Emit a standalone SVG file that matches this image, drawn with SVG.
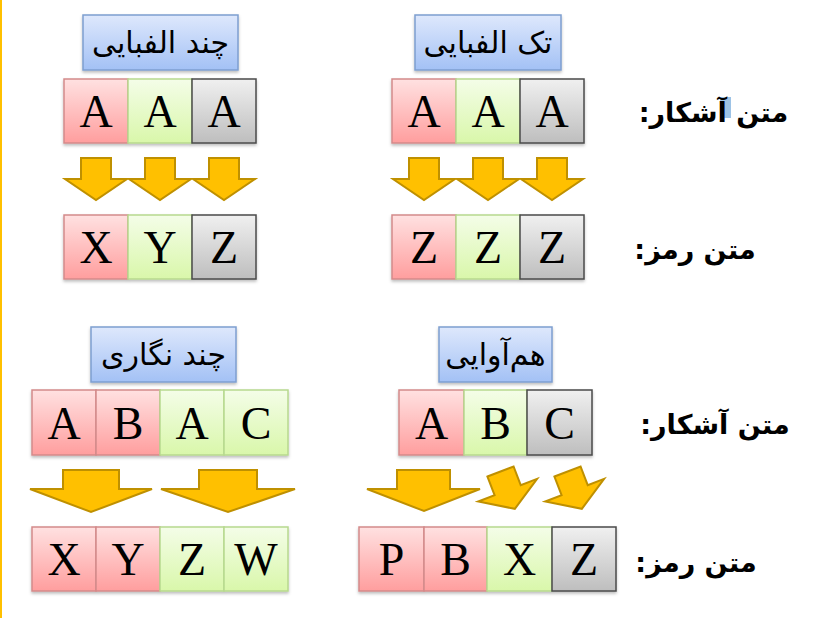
<svg xmlns="http://www.w3.org/2000/svg" width="824" height="618" viewBox="0 0 824 618">
<defs>
<linearGradient id="gRed" x1="0" y1="0" x2="0" y2="1"><stop offset="0" stop-color="#FFE1E1"/><stop offset="1" stop-color="#FF9E9E"/></linearGradient>
<linearGradient id="gGreen" x1="0" y1="0" x2="0" y2="1"><stop offset="0" stop-color="#F4FDE8"/><stop offset="1" stop-color="#D9F7AA"/></linearGradient>
<linearGradient id="gGrey" x1="0" y1="0" x2="0" y2="1"><stop offset="0" stop-color="#F0F0F0"/><stop offset="1" stop-color="#BEBEBE"/></linearGradient>
<linearGradient id="gBlue" x1="0" y1="0" x2="0" y2="1"><stop offset="0" stop-color="#DEE8FC"/><stop offset="1" stop-color="#A3C1F5"/></linearGradient>
<filter id="sh" x="-10%" y="-10%" width="130%" height="140%"><feDropShadow dx="0" dy="2" stdDeviation="1.5" flood-color="#000" flood-opacity="0.25"/></filter>
<polygon id="tilt" points="-14,0 14,0 14,20 31.5,20 0,40 -31.5,20 -14,20"/>
</defs>
<style>
.red{fill:url(#gRed);stroke:#D48A8A;stroke-width:1.5}
.green{fill:url(#gGreen);stroke:#B7D98E;stroke-width:1.5}
.grey{fill:url(#gGrey);stroke:#4A4A4A;stroke-width:1.5}
.title{fill:url(#gBlue);stroke:#7E9ED0;stroke-width:1.5}
.ch{font-family:"Liberation Serif","Times New Roman",serif;font-size:46px;fill:#000;text-anchor:middle}
.tt{font-family:"DejaVu Sans",sans-serif;font-size:30px;fill:#000;text-anchor:middle;direction:rtl}
.lbl{font-family:"DejaVu Sans",sans-serif;font-size:27px;font-weight:bold;fill:#000;text-anchor:middle;direction:rtl}
.arr{fill:#FFC000;stroke:#BF9000;stroke-width:2;stroke-linejoin:miter}
</style>
<rect x="0" y="0" width="824" height="618" fill="#fff"/>
<line x1="1" y1="0" x2="1" y2="618" stroke="#FFC000" stroke-width="2"/>

<!-- Top-left: poly-alphabetic -->
<g id="title-poly"><rect class="title" x="83" y="15" width="155" height="55" filter="url(#sh)"/><text class="tt" x="160.5" y="53" direction="rtl">چند الفبایی</text></g>
<g id="tl-p" filter="url(#sh)">
<rect class="red" x="64" y="79" width="64" height="64"/>
<rect class="green" x="128" y="79" width="64" height="64"/>
<rect class="grey" x="192" y="79" width="64" height="64"/>
</g>
<g id="tl-p-text"><text class="ch" x="96" y="127">A</text><text class="ch" x="160" y="127">A</text><text class="ch" x="224" y="127">A</text></g>
<g id="tl-c" filter="url(#sh)">
<rect class="red" x="64" y="215" width="64" height="64"/>
<rect class="green" x="128" y="215" width="64" height="64"/>
<rect class="grey" x="192" y="215" width="64" height="64"/>
</g>
<g id="tl-c-text"><text class="ch" x="96" y="263">X</text><text class="ch" x="160" y="263">Y</text><text class="ch" x="224" y="263">Z</text></g>

<!-- Top-right: mono-alphabetic -->
<g id="title-mono"><rect class="title" x="415" y="15" width="146" height="55" filter="url(#sh)"/><text class="tt" x="488" y="53" direction="rtl">تک الفبایی</text></g>
<g id="tr-p" filter="url(#sh)">
<rect class="red" x="392" y="79" width="64" height="64"/>
<rect class="green" x="456" y="79" width="64" height="64"/>
<rect class="grey" x="520" y="79" width="64" height="64"/>
</g>
<g id="tr-p-text"><text class="ch" x="424" y="127">A</text><text class="ch" x="488" y="127">A</text><text class="ch" x="552" y="127">A</text></g>
<g id="tr-c" filter="url(#sh)">
<rect class="red" x="392" y="215" width="64" height="64"/>
<rect class="green" x="456" y="215" width="64" height="64"/>
<rect class="grey" x="520" y="215" width="64" height="64"/>
</g>
<g id="tr-c-text"><text class="ch" x="424" y="263">Z</text><text class="ch" x="488" y="263">Z</text><text class="ch" x="552" y="263">Z</text></g>

<!-- Bottom-left: polygram -->
<g id="title-polygram"><rect class="title" x="91" y="327" width="145" height="55" filter="url(#sh)"/><text class="tt" x="163.5" y="365" direction="rtl">چند نگاری</text></g>
<g id="bl-p" filter="url(#sh)">
<rect class="red" x="32" y="390" width="64" height="65"/>
<rect class="red" x="96" y="390" width="64" height="65"/>
<rect class="green" x="160" y="390" width="64" height="65"/>
<rect class="green" x="224" y="390" width="64" height="65"/>
</g>
<g id="bl-p-text"><text class="ch" x="64" y="439">A</text><text class="ch" x="128" y="439">B</text><text class="ch" x="192" y="439">A</text><text class="ch" x="256" y="439">C</text></g>
<g id="bl-c" filter="url(#sh)">
<rect class="red" x="32" y="527" width="64" height="64"/>
<rect class="red" x="96" y="527" width="64" height="64"/>
<rect class="green" x="160" y="527" width="64" height="64"/>
<rect class="green" x="224" y="527" width="64" height="64"/>
</g>
<g id="bl-c-text"><text class="ch" x="64" y="575">X</text><text class="ch" x="128" y="575">Y</text><text class="ch" x="192" y="575">Z</text><text class="ch" x="256" y="575">W</text></g>

<!-- Bottom-right: homophonic -->
<g id="title-homo"><rect class="title" x="439" y="327" width="113" height="55" filter="url(#sh)"/><text class="tt" x="495.5" y="365" direction="rtl">هم‌آوایی</text></g>
<g id="br-p" filter="url(#sh)">
<rect class="red" x="399" y="390" width="65" height="65"/>
<rect class="green" x="464" y="390" width="63" height="65"/>
<rect class="grey" x="527" y="390" width="65" height="65"/>
</g>
<g id="br-p-text"><text class="ch" x="431.5" y="439">A</text><text class="ch" x="495.5" y="439">B</text><text class="ch" x="559.5" y="439">C</text></g>
<g id="br-c" filter="url(#sh)">
<rect class="red" x="359" y="527" width="65" height="64"/>
<rect class="red" x="424" y="527" width="63" height="64"/>
<rect class="green" x="487" y="527" width="65" height="64"/>
<rect class="grey" x="552" y="527" width="64" height="64"/>
</g>
<g id="br-c-text"><text class="ch" x="391.5" y="575">P</text><text class="ch" x="455.5" y="575">B</text><text class="ch" x="519.5" y="575">X</text><text class="ch" x="584" y="575">Z</text></g>

<!-- Labels -->
<rect x="720" y="97" width="11" height="21" fill="#9DC3E6"/>
<g id="label-plain-top"><text class="lbl" x="713.5" y="122" direction="rtl">متن آشکار:</text></g>
<g id="label-cipher-top"><text class="lbl" x="695" y="259" direction="rtl">متن رمز:</text></g>
<g id="label-plain-bottom"><text class="lbl" x="715" y="434" direction="rtl">متن آشکار:</text></g>
<g id="label-cipher-bottom"><text class="lbl" x="696" y="572" direction="rtl">متن رمز:</text></g>

<!-- Connectors (block arrows) -->
<g id="connectors">
<polygon class="arr" points="81,158 111,158 111,179 127,179 96,200 65,179 81,179"/>
<polygon class="arr" points="145,158 175,158 175,179 191,179 160,200 129,179 145,179"/>
<polygon class="arr" points="209,158 239,158 239,179 255,179 224,200 193,179 209,179"/>
<polygon class="arr" points="409,158 439,158 439,179 455,179 424,200 393,179 409,179"/>
<polygon class="arr" points="473,158 503,158 503,179 519,179 488,200 457,179 473,179"/>
<polygon class="arr" points="537,158 567,158 567,179 583,179 552,200 521,179 537,179"/>
<polygon class="arr" points="63,470 119,470 119,489 152,489 91,512 30,489 63,489"/>
<polygon class="arr" points="199,470 257,470 257,489 295,489 228,512 161,489 199,489"/>
<polygon class="arr" points="397,470 450,470 450,489 480,489 424,511 367,489 397,489"/>
<use href="#tilt" class="arr" transform="translate(500.5,471.5) rotate(-21)"/>
<use href="#tilt" class="arr" transform="translate(567.5,471.5) rotate(-21)"/>
</g>
</svg>
